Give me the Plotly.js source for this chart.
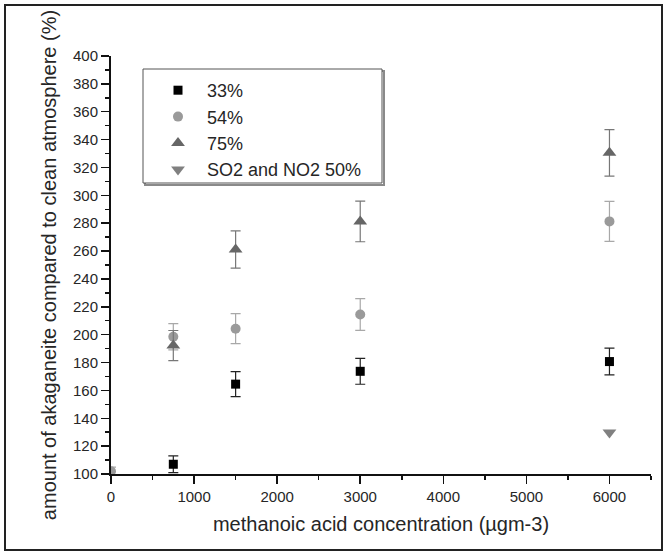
<!DOCTYPE html>
<html>
<head>
<meta charset="utf-8">
<script src="https://cdn.plot.ly/plotly-3.0.1.min.js"></script>
<style>
  html, body { margin: 0; padding: 0; background: #fff; }
  #wrap { position: relative; width: 665px; height: 553px; }
  #frame { position: absolute; left: 4px; top: 4px; width: 655px; height: 543px; border: 2px solid #222; pointer-events: none; z-index: 5; }
  #chart { position: absolute; left: 0; top: 0; width: 665px; height: 553px; }
</style>
</head>
<body>
<div id="wrap">
  <div id="chart"></div>
  <div id="frame"></div>
</div>
<script>
// Data
const seriesNames = ['33%', '54%', '75%', 'SO2 and NO2 50%'];

const x33 = [750, 1500, 3000, 6000];
const y33 = [107, 164.5, 173.7, 180.7];
const e33 = [6, 9, 9.3, 9.6];

const x54 = [0, 750, 1500, 3000, 6000];
const y54 = [102, 198.5, 204.3, 214.5, 281.3];
const e54 = [3, 9.4, 10.8, 11.4, 14.3];

const x75 = [750, 1500, 3000, 6000];
const y75 = [192.2, 261.1, 281.3, 330.5];
const e75 = [10.8, 13.4, 14.6, 16.7];

const xSO2 = [6000];
const ySO2 = [129.8];

const xTitle = 'methanoic acid concentration (µgm-3)';
const yTitle = 'amount of akaganeite compared to clean atmosphere (%)';

const FONT = '"Liberation Sans", Arial, Helvetica, sans-serif';
const TXT = '#262626';

function errObj(arr, color) {
  return { type: 'data', array: arr, visible: true, color: color, thickness: 1.2, width: 5 };
}

const traces = [
  { x: x33, y: y33, name: seriesNames[0], type: 'scatter', mode: 'markers',
    marker: { symbol: 'square', size: 9, color: '#000000' },
    error_y: errObj(e33, '#222222') },
  { x: x54, y: y54, name: seriesNames[1], type: 'scatter', mode: 'markers',
    marker: { symbol: 'circle', size: 10, color: '#9a9a9a' },
    error_y: errObj(e54, '#a8a8a8') },
  { x: x75, y: y75, name: seriesNames[2], type: 'scatter', mode: 'markers',
    marker: { symbol: 'triangle-up', size: 12, color: '#666666' },
    error_y: errObj(e75, '#777777') },
  { x: xSO2, y: ySO2, name: seriesNames[3], type: 'scatter', mode: 'markers',
    marker: { symbol: 'triangle-down', size: 12, color: '#808080' } }
];

// plot area geometry (px)
const L = 111, R = 14, T = 56, B = 79, W = 665, H = 553;
const pw = W - L - R, ph = H - T - B;
function px2x(px) { return (px - L) / pw; }
function py2y(py) { return (H - B - py) / ph; }

const box = { x0: 143, x1: 382, y0: 69, y1: 183 };

const layout = {
  width: W, height: H,
  margin: { l: L, r: R, t: T, b: B, pad: 0 },
  paper_bgcolor: '#ffffff', plot_bgcolor: '#ffffff',
  font: { family: FONT, color: TXT, size: 15 },
  showlegend: true,
  legend: {
    x: px2x(149), y: py2y(72), xanchor: 'left', yanchor: 'top',
    bgcolor: 'rgba(0,0,0,0)', borderwidth: 0,
    font: { family: FONT, size: 18, color: TXT },
    itemwidth: 48, tracegroupgap: 0
  },
  xaxis: {
    range: [0, 6500], dtick: 1000, tick0: 0,
    showgrid: false, zeroline: false,
    showline: true, linecolor: '#111', linewidth: 2,
    ticks: 'outside', ticklen: 8, tickwidth: 1.5, tickcolor: '#111',
    minor: { dtick: 500, ticks: 'outside', ticklen: 4, tickwidth: 1.5, tickcolor: '#111', showgrid: false },
    tickfont: { family: FONT, size: 15, color: TXT },
    title: { text: xTitle, font: { family: FONT, size: 20, color: TXT }, standoff: 13 },
    mirror: false, fixedrange: true
  },
  yaxis: {
    range: [100, 400], dtick: 20, tick0: 100,
    showgrid: false, zeroline: false,
    showline: true, linecolor: '#111', linewidth: 2,
    ticks: 'outside', ticklen: 8, tickwidth: 1.5, tickcolor: '#111',
    minor: { dtick: 10, ticks: 'outside', ticklen: 4, tickwidth: 1.5, tickcolor: '#111', showgrid: false },
    tickfont: { family: FONT, size: 15, color: TXT },
    title: { text: yTitle, font: { family: FONT, size: 20, color: TXT }, standoff: 11 },
    mirror: false, fixedrange: true
  },
  shapes: [
    { type: 'rect', xref: 'paper', yref: 'paper', layer: 'below',
      x0: px2x(box.x0 + 2), x1: px2x(box.x1 + 2), y0: py2y(box.y1 + 2), y1: py2y(box.y0 + 2),
      line: { color: '#8a8a8a', width: 2 }, fillcolor: 'rgba(0,0,0,0)' },
    { type: 'rect', xref: 'paper', yref: 'paper', layer: 'below',
      x0: px2x(box.x0), x1: px2x(box.x1), y0: py2y(box.y1), y1: py2y(box.y0),
      line: { color: '#555555', width: 1 }, fillcolor: '#ffffff' }
  ]
};

Plotly.newPlot('chart', traces, layout, { displayModeBar: false, staticPlot: true });
</script>
</body>
</html>
